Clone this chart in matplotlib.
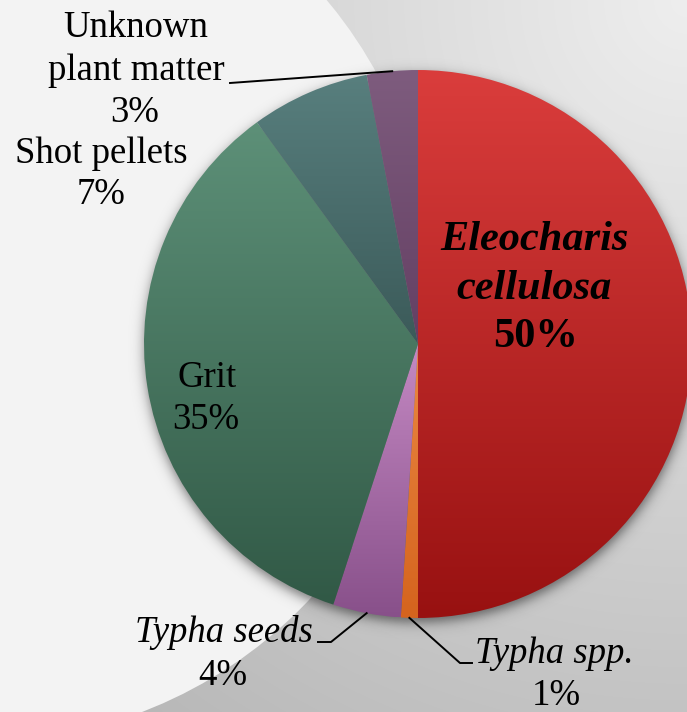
import numpy as np
import matplotlib.pyplot as plt
from matplotlib.patches import Circle
from matplotlib.colors import to_rgb

# Gizzard contents (% of total), clockwise from 12 o'clock
categories = ['Eleocharis cellulosa', 'Typha spp.', 'Typha seeds', 'Grit',
              'Shot pellets', 'Unknown plant matter']
percent = [50, 1, 4, 35, 7, 3]

# each slice is shaded top -> bottom
top_colors = ['#da3d3c', '#ea8742', '#c489c3', '#5d9078', '#587f7e', '#7e5c7e']
bottom_colors = ['#981111', '#d5641e', '#88508a', '#315946', '#3b5a59', '#643f63']

W, H = 687, 712
fig = plt.figure(figsize=(W / 100, H / 100), dpi=100)
ax = fig.add_axes([0, 0, 1, 1])
ax.set_axis_off()

# grey backdrop, lighter towards the top right corner
yy, xx = np.mgrid[0:H, 0:W]
g = np.clip(238 - 60 * np.hypot(xx - W, yy) / 1000, 0, 255) / 255
ax.imshow(np.dstack([g, g, g]), extent=[0, W, 0, H], origin='upper',
          aspect='auto', zorder=0)
ax.add_patch(Circle((-20, H - 290), 452, facecolor='#f3f3f3',
                    edgecolor='none', zorder=1))

# soft drop shadow under the pie
cx, cy, r = 418, H - 344, 274
ds = np.hypot(xx - cx, (H - yy) - (cy - 4))
shadow = np.zeros((H, W, 4))
shadow[..., 3] = 0.5 / (1 + np.exp((ds - r) / 3.5))
ax.imshow(shadow, extent=[0, W, 0, H], origin='upper', aspect='auto', zorder=2)

wedges, _ = ax.pie(percent, startangle=90, counterclock=False,
                   center=(cx, cy), radius=r,
                   wedgeprops=dict(linewidth=0, edgecolor='none'))

for w, c0, c1 in zip(wedges, top_colors, bottom_colors):
    w.set_zorder(3)
    ext = w.get_path().get_extents()
    t = np.linspace(0, 1, 256)[:, None]
    grad = (1 - t) * np.array(to_rgb(c0)) + t * np.array(to_rgb(c1))
    im = ax.imshow(grad[:, None, :], extent=[ext.x0, ext.x1, ext.y0, ext.y1],
                   origin='upper', aspect='auto', zorder=3)
    im.set_clip_path(w)
    w.set_facecolor('none')


def edge_point(w):
    a = np.deg2rad((w.theta1 + w.theta2) / 2)
    return cx + r * np.cos(a), cy + r * np.sin(a)


def Y(y):
    return H - y


serif = 'Liberation Serif'
fs = 26.5
txt = dict(ha='center', va='baseline', family=serif, color='black', zorder=5)

# Eleocharis cellulosa
ax.text(534, Y(250), 'Eleocharis', fontsize=30.5, fontweight='bold',
        style='italic', **txt)
ax.text(534, Y(299), 'cellulosa', fontsize=30.5, fontweight='bold',
        style='italic', **txt)
ax.text(536, Y(347), f'{percent[0]}%', fontsize=30.5, fontweight='bold', **txt)

# Typha spp.
ax.text(554, Y(663), categories[1], fontsize=fs, style='italic', **txt)
ax.text(556, Y(705), f'{percent[1]}%', fontsize=fs, **txt)
px, py = edge_point(wedges[1])
ax.plot([px, 460, 472], [py, Y(663), Y(663)], color='black', lw=1.4, zorder=5)

# Typha seeds
ax.text(224, Y(642), categories[2], fontsize=fs, style='italic', **txt)
ax.text(223, Y(685), f'{percent[2]}%', fontsize=fs, **txt)
px, py = edge_point(wedges[2])
ax.plot([318, 331, px], [Y(642), Y(642), py], color='black', lw=1.4, zorder=5)

# Grit
ax.text(207, Y(387), categories[3], fontsize=fs, **txt)
ax.text(206, Y(429), f'{percent[3]}%', fontsize=fs, **txt)

# Shot pellets
ax.text(101, Y(163), categories[4], fontsize=fs, **txt)
ax.text(101, Y(204), f'{percent[4]}%', fontsize=fs, **txt)

# Unknown plant matter
ax.text(136, Y(37), 'Unknown', fontsize=fs, **txt)
ax.text(136, Y(80), 'plant matter', fontsize=fs, **txt)
ax.text(135, Y(122), f'{percent[5]}%', fontsize=fs, **txt)
px, py = edge_point(wedges[5])
ax.plot([230, px], [Y(83), py], color='black', lw=1.4, zorder=5)

ax.set_aspect('auto')
ax.set_xlim(0, W)
ax.set_ylim(0, H)

fig.savefig('out.png', dpi=100)
